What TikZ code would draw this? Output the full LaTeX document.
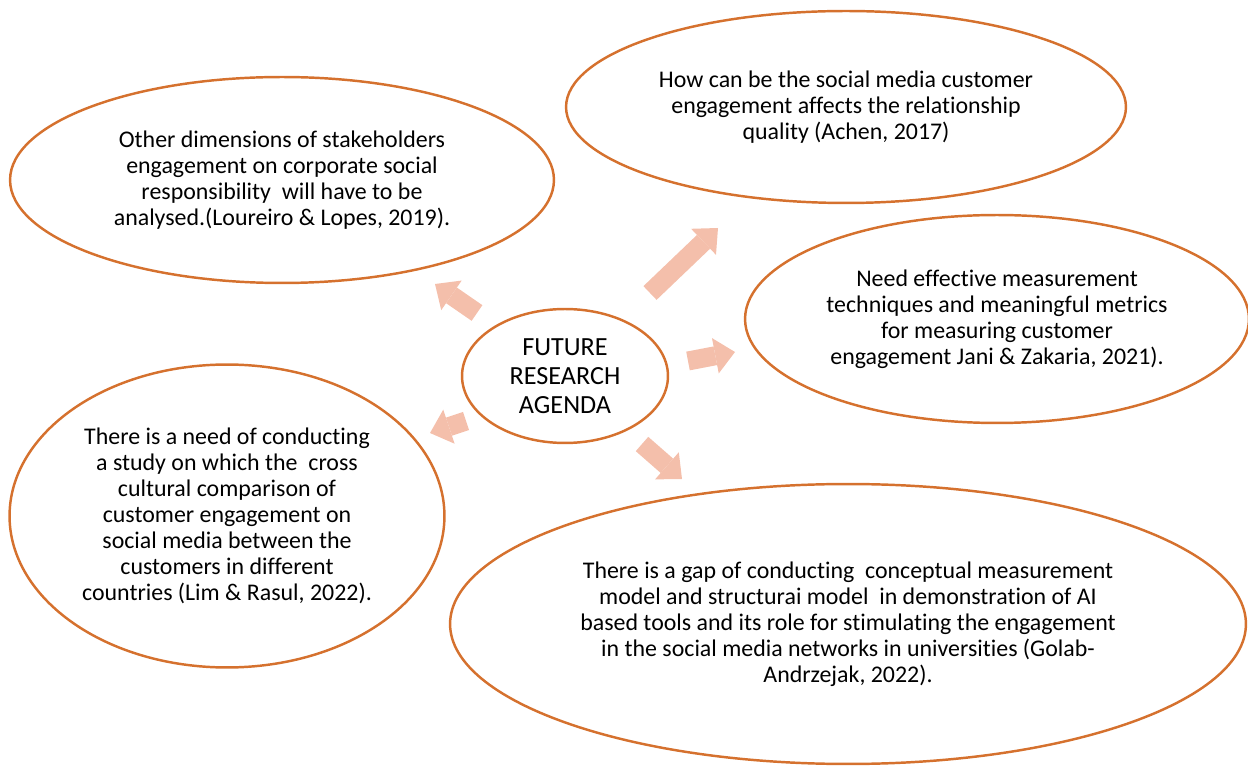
\documentclass[tikz,border=0pt]{standalone}
\usepackage{fontspec}
\setmainfont{Carlito}[Ligatures={NoCommon}]
\usetikzlibrary{shapes.geometric,arrows.meta}
\definecolor{ringorange}{HTML}{D5712E}
\definecolor{arrowpink}{HTML}{F4BFAB}

\begin{document}
\begin{tikzpicture}[x=0.02cm, y=-0.02cm]
	\tikzstyle{bubble} = [draw=ringorange, line width=1.4pt, ellipse, inner sep=0pt, align=center, font=\fontsize{13.6}{14.74}\selectfont]
	\tikzstyle{fatarrow} = [draw=arrowpink, line width=0.38cm, -{Triangle[length=0.4cm, width=0.72cm, line width=0pt, fill=arrowpink]}]

	\useasboundingbox (0,0) rectangle (1248,766);

	\node [bubble, minimum width=10.88cm, minimum height=4.12cm] (otherdims) at (282,180) {%
	  Other dimensions of stakeholders\\
	  engagement on corporate social\\
	  responsibility\ \ will have to be\\
	  analysed.(Loureiro \& Lopes, 2019).
	};
	\node [bubble, minimum width=11.2cm, minimum height=3.84cm] (relquality) at (846,107) {%
	  How can be the social media customer\\
	  engagement affects the relationship\\
	  quality (Achen, 2017)
	};
	\node [bubble, minimum width=10.08cm, minimum height=4.16cm] (metrics) at (997,319) {%
	  Need effective measurement\\
	  techniques and meaningful metrics\\
	  for measuring customer\\
	  engagement Jani \& Zakaria, 2021).
	};
	\node [bubble, minimum width=4.12cm, minimum height=2.68cm, font=\fontsize{14.9}{16.4}\selectfont] (agenda) at (565,376) {%
	  FUTURE\\
	  RESEARCH\\
	  AGENDA
	};
	\node [bubble, minimum width=8.7cm, minimum height=6.06cm] (crosscult) at (227,516) {%
	  There is a need of conducting\\
	  a study on which the\ \ cross\\
	  cultural comparison of\\
	  customer engagement on\\
	  social media between the\\
	  customers in different\\
	  countries (Lim \& Rasul, 2022).
	};
	\node [bubble, minimum width=15.92cm, minimum height=5.6cm] (aitools) at (848,624) {%
	  There is a gap of conducting\ \ conceptual measurement\\
	  model and structurai model\ \ in demonstration of AI\\
	  based tools and its role for stimulating the engagement\\
	  in the social media networks in universities (Golab-\\
	  Andrzejak, 2022).
	};

	% block arrows out of the agenda
	\coordinate (ulbase) at (477,313);
	\coordinate (ultip) at (435,284);
	\coordinate (urbase) at (650,293);
	\coordinate (urtip) at (718,228);
	\coordinate (rbase) at (688,361);
	\coordinate (rtip) at (735,352);
	\coordinate (llbase) at (466,421);
	\coordinate (lltip) at (430,433);
	\coordinate (lrbase) at (642,444);
	\coordinate (lrtip) at (682,479);

	\draw [fatarrow] (ulbase) -- (ultip);
	\draw [fatarrow] (urbase) -- (urtip);
	\draw [fatarrow] (rbase) -- (rtip);
	\draw [fatarrow] (llbase) -- (lltip);
	\draw [fatarrow] (lrbase) -- (lrtip);
\end{tikzpicture}
\end{document}
